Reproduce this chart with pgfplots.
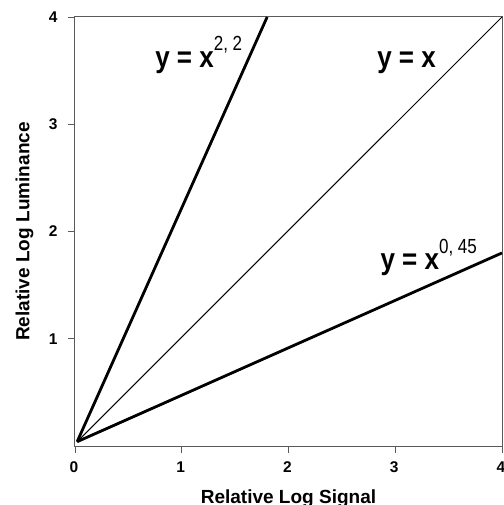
\documentclass[border=0pt]{standalone}
\usepackage{pgfplots}
\pgfplotsset{compat=1.18}
\usepackage{fontspec}
\setmainfont{Liberation Sans}
\definecolor{axgray}{RGB}{90,90,90}
\newcommand{\tickfont}{\fontsize{15.5}{15.5}\selectfont\bfseries}
\begin{document}
\begin{tikzpicture}
\begin{axis}[
  scale only axis,
  width=427pt, height=429pt,
  xmin=0, xmax=4, ymin=0, ymax=4,
  xtick={0,1,2,3,4}, ytick={1,2,3,4},
  xticklabels={\tickfont 0,\tickfont 1,\tickfont 2,\tickfont 3,\tickfont 4},
  yticklabels={\tickfont 1,\tickfont 2,\tickfont 3,\tickfont 4},
  tick align=outside, major tick length=7pt,
  xtick style={axgray, line width=0.8pt},
  ytick style={axgray, line width=0.8pt},
  axis line style={axgray, line width=1pt},
  tick pos=left,
  xticklabel style={yshift=-5pt, xshift=-1pt},
  yticklabel style={xshift=-7pt},
  xlabel={Relative Log Signal},
  ylabel={Relative Log Luminance},
  label style={font=\fontsize{19}{19}\selectfont\bfseries},
  xlabel style={at={(axis description cs:0.5,-0.1329)}, anchor=base},
  ylabel style={at={(axis description cs:-0.1066,0.5)}, anchor=base},
  clip=false,
]
\addplot[black, line width=2.8pt] coordinates {(0.02,0.04) (1.80,4.00)};
\addplot[black, line width=1pt] coordinates {(0.02,0.04) (4.00,4.00)};
\addplot[black, line width=2.8pt] coordinates {(0.02,0.04) (4.00,1.80)};
\node[anchor=base west, inner sep=0pt] at (axis cs:0.75,3.53)
  {\scalebox{1}[1.15]{\fontsize{26}{26}\selectfont\bfseries y = x}\raisebox{17pt}{\scalebox{1}[1.2]{\fontsize{17}{17}\selectfont\mdseries 2, 2}}};
\node[anchor=base west, inner sep=0pt] at (axis cs:2.83,3.53)
  {\scalebox{1}[1.15]{\fontsize{26}{26}\selectfont\bfseries y = x}};
\node[anchor=base west, inner sep=0pt] at (axis cs:2.86,1.65)
  {\scalebox{1}[1.15]{\fontsize{26}{26}\selectfont\bfseries y = x}\raisebox{16pt}{\scalebox{1}[1.2]{\fontsize{17}{17}\selectfont\mdseries 0, 45}}};
\end{axis}
\pgfresetboundingbox
\path[use as bounding box] (-75pt,-59pt) rectangle (428pt,446pt);
\end{tikzpicture}
\end{document}
